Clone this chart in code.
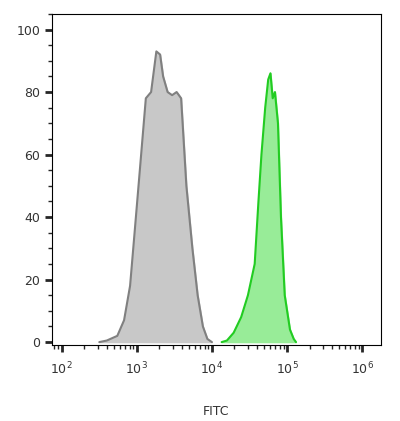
import numpy as np, pandas as pd, seaborn as sns, matplotlib
matplotlib.use("Agg")
import matplotlib.pyplot as plt
from matplotlib.ticker import LogLocator, MultipleLocator, FixedLocator

gray_log = [2.50,2.60,2.74,2.83,2.91,2.97,3.04,3.12,3.19,3.26,3.31,3.35,3.41,3.47,3.53,3.59,3.66,3.74,3.81,3.88,3.94,4.00]
gray_val = [0,0.5,2,7,18,35,55,78,80,93,92,85,80,79,80,78,50,30,15,5,1,0]
green_log = [4.13,4.20,4.29,4.39,4.48,4.57,4.62,4.66,4.71,4.75,4.78,4.81,4.84,4.88,4.92,4.97,5.04,5.09,5.12]
green_val = [0,0.5,3,8,15,25,45,60,75,84,86,78,80,70,40,15,4,1,0]

sns.set_style("ticks")
fig = plt.figure(figsize=(4,4.21), dpi=100)
ax = fig.add_axes([0.13,0.18,0.822,0.787])
g = pd.DataFrame({"x":10**np.array(gray_log),"y":gray_val})
gr = pd.DataFrame({"x":10**np.array(green_log),"y":green_val})
sns.lineplot(data=g,x="x",y="y",ax=ax,color="#808080",lw=1.5)
ax.fill_between(g.x,g.y,color="#c8c8c8")
sns.lineplot(data=gr,x="x",y="y",ax=ax,color="#22cc22",lw=1.5)
ax.fill_between(gr.x,gr.y,color="#98ec98")
ax.set_xscale("log")
ax.set_xlim(10**1.87,10**6.25)
ax.set_ylim(-1,105)
ax.xaxis.set_major_locator(FixedLocator([1e2,1e3,1e4,1e5,1e6]))
ax.xaxis.set_minor_locator(LogLocator(subs=np.arange(2,10)))
ax.yaxis.set_major_locator(MultipleLocator(20))
ax.yaxis.set_minor_locator(MultipleLocator(5))
for s in ax.spines.values():
    s.set_color("black"); s.set_linewidth(0.8)
ax.tick_params(which="major",length=5,width=2,labelsize=9,direction="out",labelcolor="#333333")
ax.tick_params(axis="x",which="major",pad=6)
ax.tick_params(which="minor",length=3,width=1)
ax.set_ylabel("")
ax.set_xlabel("FITC",fontsize=9,labelpad=20,color="#333333")
fig.savefig("out.png",dpi=100)
